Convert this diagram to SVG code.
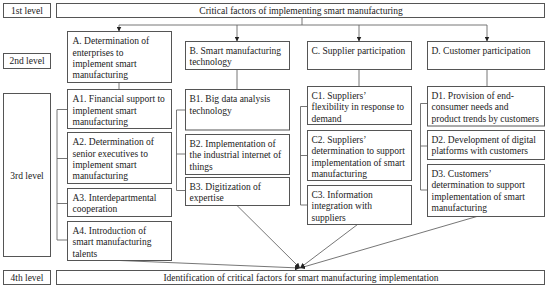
<svg xmlns="http://www.w3.org/2000/svg" width="550" height="290" viewBox="0 0 550 290">
<defs>
<style>
.box{fill:#fff;stroke:#555;stroke-width:1}
.t{font-family:"Liberation Serif","Times New Roman",serif;font-size:9.5px;fill:#222}
.c{text-anchor:middle}
.ln{fill:none;stroke:#666;stroke-width:0.9}
</style>
<marker id="ah" viewBox="0 0 6 6" refX="6" refY="3" markerWidth="5" markerHeight="5" orient="auto" markerUnits="userSpaceOnUse">
<path d="M0,0 L6,3 L0,6 z" fill="#222"/>
</marker>
</defs>
<rect width="550" height="290" fill="#fff"/>

<g id="connectors">
<path class="ln" d="M302,17.5 V25 M119,25 H487"/>
<line class="ln" x1="119" y1="25" x2="119" y2="31.5" marker-end="url(#ah)"/>
<line class="ln" x1="237" y1="25" x2="237" y2="41.5" marker-end="url(#ah)"/>
<line class="ln" x1="359" y1="25" x2="359" y2="41.5" marker-end="url(#ah)"/>
<line class="ln" x1="487" y1="25" x2="487" y2="41.5" marker-end="url(#ah)"/>
<path class="ln" d="M119,82.5 V89.5 M237,69.5 V89.5 M359,69.5 V86.5 M487,69.5 V86.5"/>
<path class="ln" d="M67.5,109.5 H57 V240 H67.5 M57,158.5 H67.5 M57,203.5 H67.5"/>
<path class="ln" d="M185.5,110 H176.5 V190.5 H185.5 M176.5,154 H185.5"/>
<path class="ln" d="M307.5,106.5 H300.5 V205 H307.5 M300.5,155.5 H307.5"/>
<path class="ln" d="M427.5,103.5 H420.5 V190 H427.5 M420.5,146 H427.5"/>
<line class="ln" x1="120" y1="260.5" x2="300" y2="268" marker-end="url(#ah)"/>
<line class="ln" x1="237" y1="205.5" x2="300" y2="268" marker-end="url(#ah)"/>
<line class="ln" x1="357.5" y1="224.5" x2="300" y2="268" marker-end="url(#ah)"/>
<line class="ln" x1="478.5" y1="216" x2="300" y2="268" marker-end="url(#ah)"/>
</g>

<g id="level1"><rect class="box" x="3.5" y="3.5" width="47" height="14"/><text class="t c" x="27" y="13.8">1st level</text></g>
<g id="level2"><rect class="box" x="3.5" y="53.5" width="47" height="15"/><text class="t c" x="27" y="64">2nd level</text></g>
<g id="level3"><rect class="box" x="3.5" y="93.5" width="47" height="163"/><text class="t c" x="27" y="178.5">3rd level</text></g>
<g id="level4"><rect class="box" x="3.5" y="270.5" width="47" height="14"/><text class="t c" x="27" y="280.5">4th level</text></g>

<g id="title"><rect class="box" x="56.5" y="3.5" width="488" height="14"/><text class="t c" x="301" y="13.8">Critical factors of implementing smart manufacturing</text></g>
<g id="result"><rect class="box" x="56.5" y="270.5" width="488" height="14"/><text class="t c" x="301" y="280.5">Identification of critical factors for smart manufacturing implementation</text></g>

<g id="A"><rect class="box" x="67.5" y="31.5" width="104" height="51"/>
<text class="t" x="72.5" y="44.3">A. Determination of<tspan x="72.5" dy="11.3">enterprises to</tspan><tspan x="72.5" dy="11.3">implement smart</tspan><tspan x="72.5" dy="11.3">manufacturing</tspan></text></g>
<g id="B"><rect class="box" x="185.5" y="41.5" width="104" height="28"/>
<text class="t" x="189.5" y="53.5">B. Smart manufacturing<tspan x="189.5" dy="11.3">technology</tspan></text></g>
<g id="C"><rect class="box" x="307.5" y="41.5" width="104" height="28"/>
<text class="t" x="311.5" y="53.5">C. Supplier participation</text></g>
<g id="D"><rect class="box" x="427.5" y="41.5" width="117" height="28"/>
<text class="t" x="431.5" y="53.5">D. Customer participation</text></g>

<g id="A1"><rect class="box" x="67.5" y="89.5" width="104" height="39"/>
<text class="t" x="72.5" y="102.3">A1. Financial support to<tspan x="72.5" dy="11.3">implement smart</tspan><tspan x="72.5" dy="11.3">manufacturing</tspan></text></g>
<g id="A2"><rect class="box" x="67.5" y="132.5" width="104" height="51"/>
<text class="t" x="72.5" y="145.3">A2. Determination of<tspan x="72.5" dy="11.3">senior executives to</tspan><tspan x="72.5" dy="11.3">implement smart</tspan><tspan x="72.5" dy="11.3">manufacturing</tspan></text></g>
<g id="A3"><rect class="box" x="67.5" y="188.5" width="104" height="28"/>
<text class="t" x="72.5" y="201">A3. Interdepartmental<tspan x="72.5" dy="11.3">cooperation</tspan></text></g>
<g id="A4"><rect class="box" x="67.5" y="221.5" width="104" height="39"/>
<text class="t" x="72.5" y="234">A4. Introduction of<tspan x="72.5" dy="11.3">smart manufacturing</tspan><tspan x="72.5" dy="11.3">talents</tspan></text></g>

<g id="B1"><rect class="box" x="185.5" y="89.5" width="104" height="40.5"/>
<text class="t" x="189.5" y="102.3">B1. Big data analysis<tspan x="189.5" dy="11.3">technology</tspan></text></g>
<g id="B2"><rect class="box" x="185.5" y="134.5" width="104" height="40"/>
<text class="t" x="189.5" y="147">B2. Implementation of<tspan x="189.5" dy="11.3">the industrial internet of</tspan><tspan x="189.5" dy="11.3">things</tspan></text></g>
<g id="B3"><rect class="box" x="185.5" y="177.5" width="104" height="28"/>
<text class="t" x="189.5" y="190">B3. Digitization of<tspan x="189.5" dy="11.3">expertise</tspan></text></g>

<g id="C1"><rect class="box" x="307.5" y="86.5" width="104" height="38"/>
<text class="t" x="311.5" y="99">C1. Suppliers’<tspan x="311.5" dy="11.3">flexibility in response to</tspan><tspan x="311.5" dy="11.3">demand</tspan></text></g>
<g id="C2"><rect class="box" x="307.5" y="130.5" width="104" height="50"/>
<text class="t" x="311.5" y="143">C2. Suppliers’<tspan x="311.5" dy="11.3">determination to support</tspan><tspan x="311.5" dy="11.3">implementation of smart</tspan><tspan x="311.5" dy="11.3">manufacturing</tspan></text></g>
<g id="C3"><rect class="box" x="307.5" y="185.5" width="104" height="39"/>
<text class="t" x="311.5" y="198">C3. Information<tspan x="311.5" dy="11.3">integration with</tspan><tspan x="311.5" dy="11.3">suppliers</tspan></text></g>

<g id="D1"><rect class="box" x="427.5" y="86.5" width="117" height="39.5"/>
<text class="t" x="431.5" y="99">D1. Provision of end-<tspan x="431.5" dy="11.3">consumer needs and</tspan><tspan x="431.5" dy="11.3">product trends by customers</tspan></text></g>
<g id="D2"><rect class="box" x="427.5" y="130.5" width="117" height="29"/>
<text class="t" x="431.5" y="143">D2. Development of digital<tspan x="431.5" dy="11.3">platforms with customers</tspan></text></g>
<g id="D3"><rect class="box" x="427.5" y="164.5" width="117" height="52"/>
<text class="t" x="431.5" y="177">D3. Customers’<tspan x="431.5" dy="11.3">determination to support</tspan><tspan x="431.5" dy="11.3">implementation of smart</tspan><tspan x="431.5" dy="11.3">manufacturing</tspan></text></g>
</svg>
